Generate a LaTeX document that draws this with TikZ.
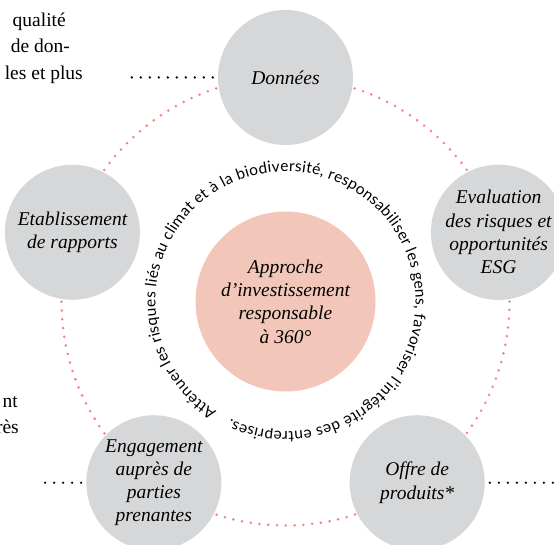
\documentclass[tikz,border=0pt]{standalone}
\usepackage{fontspec}
\setmainfont{Liberation Serif}
\newfontfamily\curvefont{Lato}
\usetikzlibrary{decorations.text,calc}
\definecolor{greyc}{RGB}{214,215,217}
\definecolor{salmonc}{RGB}{242,199,186}
\definecolor{dotred}{RGB}{243,128,122}
\tikzset{
  sat/.style={circle, fill=greyc, minimum size=135pt, inner sep=0pt, align=center,
    font=\fontsize{19.5}{23.3}\selectfont\itshape},
  hub/.style={circle, fill=salmonc, minimum size=180pt, inner sep=0pt, align=center,
    font=\fontsize{19.5}{23.3}\selectfont\itshape},
  ringdots/.style={draw=dotred, line width=2.8pt, line cap=round, dash pattern=on 0pt off 8.8pt},
  blackdots/.style={draw=black, line width=2.6pt, line cap=round, dash pattern=on 0pt off 9pt},
  frag/.style={font=\fontsize{19.5}{26}\selectfont, inner sep=0pt, anchor=base east},
}
\begin{document}
\begin{tikzpicture}[x=1pt,y=1pt]
\useasboundingbox (0,0) rectangle (554,544);
\coordinate (C) at (285.5,242.5);
\path[ringdots] (C) circle[radius=224];
% curved text
\path[decorate, decoration={text along path, text align={fit to path},
  text={|\curvefont\fontsize{15.5}{17}\selectfont|Atténuer les risques liés au climat et à la biodiversité, responsabiliser les gens, favoriser l’intégrité des entreprises.}}]
  (C) ++(238:130) arc[start angle=238, end angle=-115, radius=130];
\node[hub] (hub) at (C) {Approche\\d’investissement\\responsable\\à 360°};
\node[sat] (don) at ($(C)+(90:224)$) {Données};
\node[sat] (eval) at ($(C)+(18:224)$) {Evaluation\\des risques et\\opportunités\\ESG};
\node[sat] (offre) at ($(C)+(306:224)$) {Offre de\\produits*};
\node[sat] (eng) at ($(C)+(234:224)$) {Engagement\\auprès de\\parties\\prenantes};
\node[sat] (etab) at ($(C)+(162:224)$) {Etablissement\\de rapports};
% black dotted leaders
\coordinate (l1) at (123,466.5);
\coordinate (l2) at (42,61.3);
\coordinate (l3) at (556,61.3);
\draw[blackdots, shorten <=5pt] (don.west) -- (l1);
\draw[blackdots, shorten <=5pt] (eng.west) -- (l2);
\draw[blackdots, shorten <=5pt] (offre.east) -- (l3);
% text fragments cut at the left edge
\node[frag] (f1) at (66,517) {qualité};
\node[frag] (f2) at (70,491) {de don-};
\node[frag] (f3) at (83,464) {les et plus};
\node[frag] (f4) at (18,137) {nt};
\node[frag] (f5) at (19,111) {rès};
\end{tikzpicture}
\end{document}
